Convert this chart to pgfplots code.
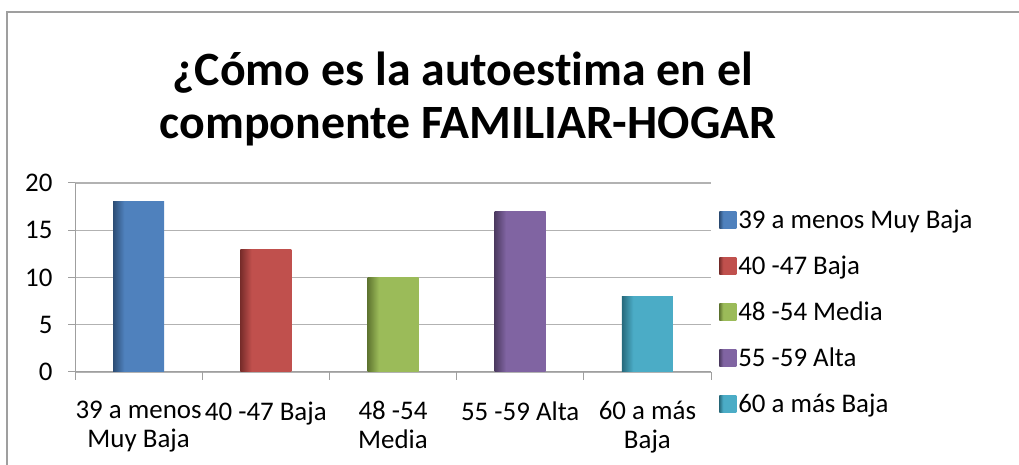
\documentclass[border=0pt]{standalone}
\usepackage{pgfplots}
\pgfplotsset{compat=1.18}
\usepackage{fontspec}
\setmainfont{Carlito}[Ligatures=NoCommon]
\definecolor{c1}{HTML}{4F81BD}\definecolor{d1}{HTML}{2C4D75}
\definecolor{c2}{HTML}{C0504D}\definecolor{d2}{HTML}{772C2A}
\definecolor{c3}{HTML}{9BBB59}\definecolor{d3}{HTML}{5F7530}
\definecolor{c4}{HTML}{8064A2}\definecolor{d4}{HTML}{4D3B62}
\definecolor{c5}{HTML}{4BACC6}\definecolor{d5}{HTML}{276A7C}
\pgfdeclarehorizontalshading{sh1}{100bp}{color(0bp)=(d1); color(25bp)=(d1); color(36bp)=(c1); color(100bp)=(c1)}
\pgfdeclarehorizontalshading{sh2}{100bp}{color(0bp)=(d2); color(25bp)=(d2); color(36bp)=(c2); color(100bp)=(c2)}
\pgfdeclarehorizontalshading{sh3}{100bp}{color(0bp)=(d3); color(25bp)=(d3); color(36bp)=(c3); color(100bp)=(c3)}
\pgfdeclarehorizontalshading{sh4}{100bp}{color(0bp)=(d4); color(25bp)=(d4); color(36bp)=(c4); color(100bp)=(c4)}
\pgfdeclarehorizontalshading{sh5}{100bp}{color(0bp)=(d5); color(25bp)=(d5); color(36bp)=(c5); color(100bp)=(c5)}
\begin{document}
\begin{tikzpicture}[x=1bp,y=1bp]
\path[use as bounding box] (0,0) rectangle (1019,465);
\draw[gray!75, line width=1.2bp] (7,0) -- (7,453) -- (1019,453);
\node[anchor=base, font=\bfseries\fontsize{48}{56}\selectfont] at (463,379) {¿Cómo es la autoestima en el};
\node[anchor=base, font=\bfseries\fontsize{48}{56}\selectfont] at (468,326) {componente FAMILIAR-HOGAR};
\begin{axis}[
  at={(75bp,93bp)}, anchor=south west, scale only axis,
  width=636bp, height=189bp,
  ymin=0, ymax=20, xmin=-0.5, xmax=4.5,
  ybar,
  ytick={0,5,10,15,20},
  xtick={0,1,2,3,4},
  xticklabels={{39 a menos\\Muy Baja},{40 -47 Baja},{48 -54\\Media},{55 -59 Alta},{60 a más\\Baja}},
  minor xtick={-0.5,0.5,1.5,2.5,3.5,4.5},
  major x tick style={draw=none},
  tick align=outside,
  major tick length=7bp, minor tick length=8bp,
  tick style={gray!75, line width=1bp},
  axis x line*=bottom, axis y line*=left,
  axis line style={draw=gray!75, line width=1bp, -},
  ymajorgrids, grid style={gray!60, line width=1.2bp},
  /pgf/number format/assume math mode=true,
  ticklabel style={font=\fontsize{27}{29}\selectfont},
  xticklabel style={align=center, yshift=-19bp},
  yticklabel style={xshift=-12bp},
  legend style={at={(rel axis cs:1.008,0.879)}, anchor=north west, draw=none, fill=none,
    font=\fontsize{27}{29}\selectfont, row sep=22bp, nodes={inner sep=2bp}},
  legend cell align=left,
  legend image code/.code={\path[#1] (0bp,-8.5bp) rectangle (17bp,8.5bp);},
]
\addplot[draw=none, shading=sh1, bar width=51bp, bar shift=0pt] coordinates {(0,18)};
\addplot[draw=none, shading=sh2, bar width=51bp, bar shift=0pt] coordinates {(1,13)};
\addplot[draw=none, shading=sh3, bar width=51bp, bar shift=0pt] coordinates {(2,10)};
\addplot[draw=none, shading=sh4, bar width=51bp, bar shift=0pt] coordinates {(3,17)};
\addplot[draw=none, shading=sh5, bar width=51bp, bar shift=0pt] coordinates {(4,8)};
\legend{39 a menos Muy Baja, 40 -47 Baja, 48 -54 Media, 55 -59 Alta, 60 a más Baja}
\end{axis}
\end{tikzpicture}
\end{document}
